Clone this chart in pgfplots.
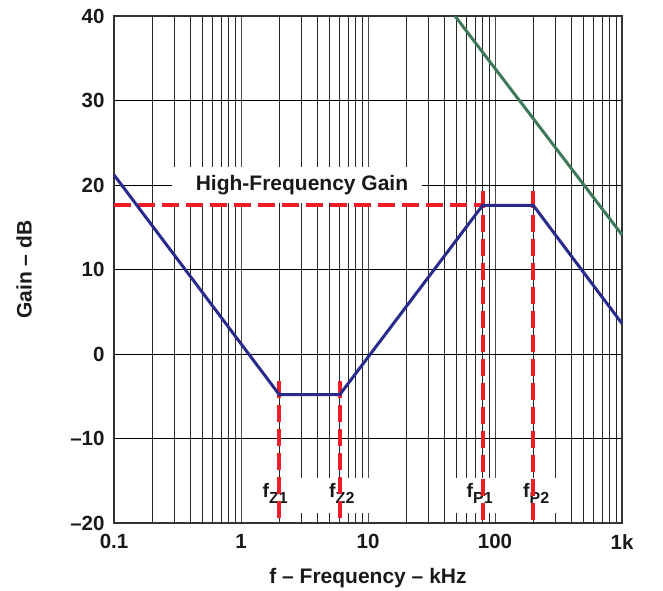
\documentclass[border=0pt]{standalone}
\usepackage{pgfplots}
\pgfplotsset{compat=1.18}
\usepackage{fontspec}
\setmainfont{Liberation Sans}
\definecolor{navy}{RGB}{40,42,140}
\definecolor{dkgreen}{RGB}{62,122,90}
\definecolor{bred}{RGB}{237,30,40}
\begin{document}
\begin{tikzpicture}[x=1pt,y=1pt]
\path[use as bounding box] (0,0) rectangle (663,590);
\begin{axis}[
  at={(114pt,67pt)}, anchor=south west,
  scale only axis, width=508pt, height=507pt,
  xmode=log, xmin=0.1, xmax=1000, ymin=-20, ymax=40,
  xtick={0.1,1,10,100,1000}, xticklabels={0.1,1,10,100,1k},
  ytick={-20,-10,0,10,20,30,40}, yticklabels={–20,–10,0,10,20,30,40},
  minor y tick num=0,
  xmajorgrids, xminorgrids, ymajorgrids,
  major tick length=0pt, minor tick length=0pt,
  major x grid style={black!70, line width=0.8pt},
  minor x grid style={black!85, line width=0.8pt},
  major y grid style={black, line width=0.8pt},
  axis line style={black!80, line width=1.3pt},
  tick label style={font=\fontsize{20.5}{22}\selectfont\bfseries, text=black!90},
  xticklabel style={yshift=-8pt},
  yticklabel style={xshift=-6pt},
  xlabel={f – Frequency – kHz}, ylabel={Gain – dB},
  every axis x label/.style={at={(axis description cs:0.5,-0.108)}, anchor=center, font=\fontsize{21}{22}\selectfont\bfseries, text=black!90},
  every axis y label/.style={at={(axis description cs:-0.177,0.5)}, rotate=90, anchor=center, font=\fontsize{21}{22}\selectfont\bfseries, text=black!90},
  clip=false,
]
% white label boxes
\fill[white] (axis cs:0.286,17.9) rectangle (axis cs:26.6,22.1);
\fill[white] (axis cs:1.3,-14.7) rectangle (axis cs:13,-18.8);
\fill[white] (axis cs:45,-14.7) rectangle (axis cs:340,-18.8);
\node[anchor=base, font=\fontsize{21}{22}\selectfont\bfseries, text=black!90] at (axis cs:3.02,19.3) {High-Frequency Gain};
\node[anchor=base, font=\fontsize{19.5}{20}\selectfont\bfseries, text=black!90, xshift=-4pt] at (axis cs:2,-17.04) {f\raisebox{-6pt}{\fontsize{16}{16}\selectfont\bfseries Z1}};
\node[anchor=base, font=\fontsize{19.5}{20}\selectfont\bfseries, text=black!90, xshift=2pt] at (axis cs:6,-17.04) {f\raisebox{-6pt}{\fontsize{16}{16}\selectfont\bfseries Z2}};
\node[anchor=base, font=\fontsize{19.5}{20}\selectfont\bfseries, text=black!90, xshift=-3pt] at (axis cs:80,-17.04) {f\raisebox{-6pt}{\fontsize{16}{16}\selectfont\bfseries P1}};
\node[anchor=base, font=\fontsize{19.5}{20}\selectfont\bfseries, text=black!90, xshift=3pt] at (axis cs:200,-17.04) {f\raisebox{-6pt}{\fontsize{16}{16}\selectfont\bfseries P2}};
% red dashed guides
\addplot[bred, line width=4pt, dash pattern=on 17pt off 7pt] coordinates {(0.1,17.6) (80,17.6)};
\addplot[bred, line width=4pt, dash pattern=on 17pt off 7pt] coordinates {(2,-3.2) (2,-20)};
\addplot[bred, line width=4pt, dash pattern=on 17pt off 7pt] coordinates {(6,-3.2) (6,-20)};
\addplot[bred, line width=4pt, dash pattern=on 17pt off 7pt] coordinates {(80,19.3) (80,-20)};
\addplot[bred, line width=4pt, dash pattern=on 17pt off 7pt] coordinates {(200,19.3) (200,-20)};
% gain curves
\addplot[navy, line width=3pt] coordinates {(0.1,21.2) (2,-4.8) (6,-4.8) (80,17.6) (200,17.6) (1000,3.6)};
\addplot[dkgreen, line width=3pt] coordinates {(48.4,40) (1000,14.1)};
\end{axis}
\end{tikzpicture}
\end{document}
